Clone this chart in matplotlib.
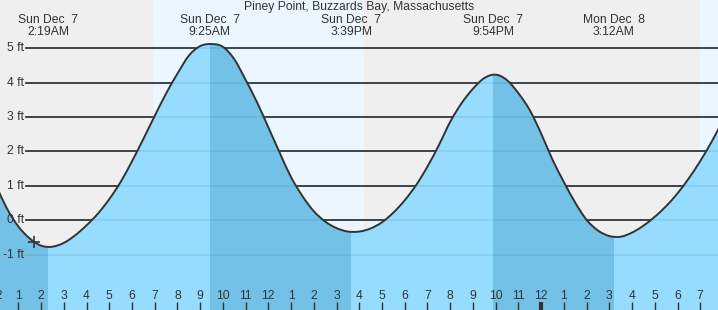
import numpy as np
import pandas as pd
import matplotlib
matplotlib.use("Agg")
import matplotlib.pyplot as plt
import matplotlib.dates as mdates
import matplotlib.transforms as mtransforms
from matplotlib.path import Path
from matplotlib.patches import PathPatch

plt.rcParams["font.family"] = ["Liberation Sans", "DejaVu Sans"]

# ─────────────────────────────────────────────────────────────
# DATA
# ─────────────────────────────────────────────────────────────
station = "Piney Point, Buzzards Bay, Massachusetts"

# water level (ft) every 30 min starting Sun Dec 7 00:00
tide_start = "2025-12-07 00:00"
tide_ft = [
    1.04, 0.34, -0.18, -0.53, -0.74, -0.77, -0.66, -0.44, -0.15, 0.19,
    0.61, 1.11, 1.71, 2.36, 3.03, 3.68, 4.26, 4.78, 5.06, 5.12,
    5.04, 4.68, 4.08, 3.43, 2.70, 1.96, 1.25, 0.70, 0.26, -0.04,
    -0.23, -0.33, -0.33, -0.24, -0.06, 0.22, 0.58, 1.02, 1.56, 2.18,
    2.86, 3.40, 3.82, 4.13, 4.23, 4.07, 3.69, 3.20, 2.52, 1.76,
    1.11, 0.51, 0.01, -0.30, -0.46, -0.48, -0.36, -0.16, 0.10, 0.41,
    0.78, 1.22, 1.72, 2.28, 2.90,
]

extreme_times = ["2025-12-07 02:19", "2025-12-07 09:25", "2025-12-07 15:39",
                 "2025-12-07 21:54", "2025-12-08 03:12"]
extreme_kinds = ["L", "H", "L", "H", "L"]

daylight = [("2025-12-07 06:55", "2025-12-07 16:13"),
            ("2025-12-08 06:59", "2025-12-08 16:13")]

now_time = "2025-12-07 01:41"
now_ft = -0.64

view_start = "2025-12-07 00:11:40"
view_end = "2025-12-08 07:46:50"
y_ticks = [-1, 0, 1, 2, 3, 4, 5]

# ─────────────────────────────────────────────────────────────
# PLOT
# ─────────────────────────────────────────────────────────────
TXT = "#333333"
GRAY_BG = "#efefef"
DAY_BG = "#ecf6ff"
WATER = "#96dcfe"
WATER_DARK = "#73c1e6"
BOTTOM = -10
FS = 8.7
TICK_PAD = 14.2


def smooth_path(xs, ys):
    """Catmull-Rom through the points, as cubic bezier path segments."""
    xs = np.asarray(xs, float)
    ys = np.asarray(ys, float)
    px = np.concatenate([[2 * xs[0] - xs[1]], xs, [2 * xs[-1] - xs[-2]]])
    py = np.concatenate([[2 * ys[0] - ys[1]], ys, [2 * ys[-1] - ys[-2]]])
    verts = [(xs[0], ys[0])]
    codes = [Path.MOVETO]
    for i in range(1, len(px) - 2):
        c1 = (px[i] + (px[i + 1] - px[i - 1]) / 6, py[i] + (py[i + 1] - py[i - 1]) / 6)
        c2 = (px[i + 1] - (px[i + 2] - px[i]) / 6, py[i + 1] - (py[i + 2] - py[i]) / 6)
        verts += [c1, c2, (px[i + 1], py[i + 1])]
        codes += [Path.CURVE4] * 3
    return verts, codes


times = pd.date_range(tide_start, periods=len(tide_ft), freq="30min").to_pydatetime()
tnum = mdates.date2num(times)
ext_t = [pd.Timestamp(t).to_pydatetime() for t in extreme_times]
x0 = pd.Timestamp(view_start).to_pydatetime()
x1 = pd.Timestamp(view_end).to_pydatetime()

fig = plt.figure(figsize=(7.18, 3.10), dpi=100)
ax = fig.add_axes([0, 0, 1, 1])
ax.set_facecolor(GRAY_BG)
for side in ax.spines.values():
    side.set_visible(False)
ax.xaxis_date()

for rise, sset in daylight:
    ax.axvspan(pd.Timestamp(rise).to_pydatetime(), pd.Timestamp(sset).to_pydatetime(),
               color=DAY_BG, lw=0, zorder=0)

# grid lines (dark above the water, faint inside it)
for y in y_ticks:
    ax.axhline(y, xmin=26 / 718, color=TXT, lw=1.3, zorder=1)

verts, codes = smooth_path(tnum, tide_ft)
line_path = Path(verts, codes)
fill_path = Path(verts + [(tnum[-1], BOTTOM), (tnum[0], BOTTOM), verts[0]],
                 codes + [Path.LINETO, Path.LINETO, Path.CLOSEPOLY])
water = PathPatch(fill_path, facecolor=WATER, lw=0, zorder=2)
ax.add_patch(water)

# falling tide = darker water
falling = []
if extreme_kinds[0] == "L":
    falling.append((x0 - pd.Timedelta(hours=2), ext_t[0]))
for i, k in enumerate(extreme_kinds[:-1]):
    if k == "H":
        falling.append((ext_t[i], ext_t[i + 1]))
for a, b in falling:
    span = ax.axvspan(a, b, color=WATER_DARK, lw=0, zorder=3)
    span.set_clip_path(water)

for y in y_ticks:
    ax.axhline(y, xmin=26 / 718, color="#1a6fa0", alpha=0.13, lw=1.3, zorder=4)

ax.add_patch(PathPatch(line_path, fill=False, edgecolor=TXT, lw=1.4, zorder=5))
ax.plot(pd.Timestamp(now_time).to_pydatetime(), now_ft, marker="+", ms=9,
        mew=1.2, color=TXT, zorder=6)

ax.set_xlim(x0, x1)
ax.set_ylim(-2.61, 6.40)
ax.set_yticks([])

# y labels
ylab_tr = mtransforms.blended_transform_factory(ax.transAxes, ax.transData)
for y in y_ticks:
    ax.text(24 / 718, y, f"{y} ft", transform=ylab_tr, ha="right", va="center",
            fontsize=FS, color=TXT, zorder=7)

# hour ticks along bottom
ax.xaxis.set_major_locator(mdates.HourLocator(byhour=[0]))
ax.xaxis.set_minor_locator(mdates.HourLocator())
ax.xaxis.set_major_formatter(mdates.DateFormatter("%-I"))
ax.xaxis.set_minor_formatter(mdates.DateFormatter("%-I"))
ax.tick_params(axis="x", which="both", direction="in", length=6, pad=-TICK_PAD,
               labelsize=FS, colors=TXT)
ax.tick_params(axis="x", which="major", width=3)
ax.tick_params(axis="x", which="minor", width=1)
ax.xaxis.set_zorder(8)

# midnight label just past the left edge (only its "2" shows, as in the source)
first_midnight = pd.Timestamp(tide_start).to_pydatetime()
edge_tr = (mtransforms.blended_transform_factory(ax.transData, ax.transAxes)
           + mtransforms.ScaledTranslation(0, TICK_PAD / 72, fig.dpi_scale_trans))
ax.text(first_midnight, 0, first_midnight.strftime("%-I"), transform=edge_tr,
        ha="center", va="top", fontsize=FS, color=TXT, zorder=8, clip_on=False)

# extreme labels along top
top_tr = mtransforms.blended_transform_factory(ax.transData, ax.transAxes)
for t in ext_t:
    label = t.strftime("%a %b %e") + "\n" + t.strftime("%-I:%M%p")
    ax.text(t, 1 - 14 / 310, label, transform=top_tr, ha="center", va="top",
            fontsize=FS, color=TXT, linespacing=0.95, zorder=7)

fig.text(0.5, 1 - 1 / 310, station, ha="center", va="top", fontsize=FS, color=TXT)

fig.savefig("out.png", dpi=100)
